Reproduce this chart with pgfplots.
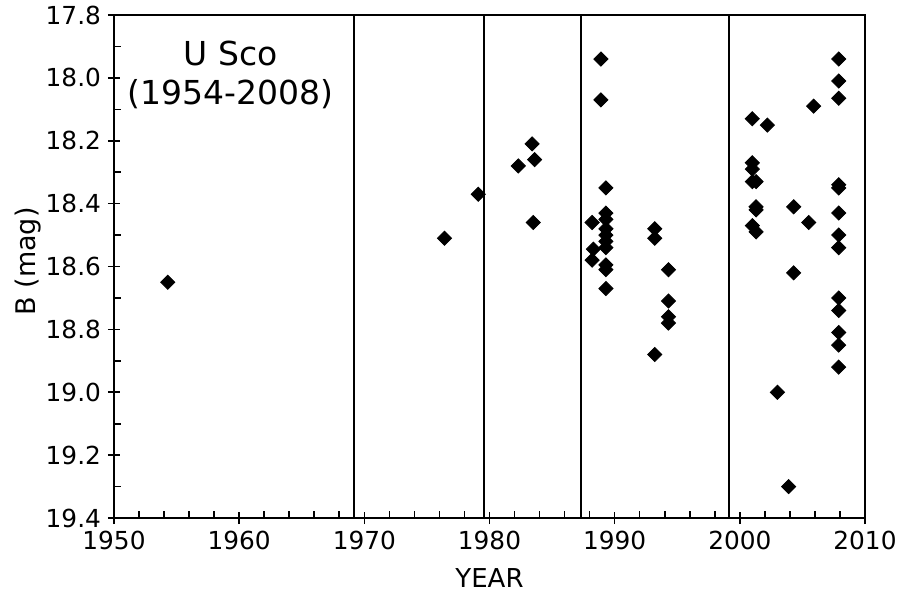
\documentclass[border=0pt]{standalone}
\usepackage{fontspec}
\setmainfont{DejaVu Sans}
\usepackage{pgfplots}
\pgfplotsset{compat=1.18}
\begin{document}
\begin{tikzpicture}
\path[use as bounding box] (-57pt,-39pt) rectangle (391.5pt,259pt);
\begin{axis}[
  at={(0,0)}, anchor=south west,
  width=375.5pt, height=251.5pt, scale only axis,
  xmin=1950, xmax=2010, ymin=17.8, ymax=19.4,
  y dir=reverse,
  xtick={1950,1960,...,2010},
  ytick={17.8,18.0,...,19.4},
  minor x tick num=4, minor y tick num=1,
  xtick pos=bottom, ytick pos=left,
  tick align=inside,
  major tick length=6pt, minor tick length=3.5pt,
  every major x tick/.style={yshift=-3pt},
  every major y tick/.style={xshift=-3pt},
  every tick/.style={black, line width=0.8pt},
  axis line style={black, line width=1pt},
  /pgf/number format/assume math mode=true,
  yticklabel style={/pgf/number format/fixed, /pgf/number format/fixed zerofill, /pgf/number format/precision=1, xshift=-3pt},
  xticklabel style={/pgf/number format/1000 sep={}, yshift=-3pt},
  ticklabel style={font=\fontsize{12.4}{14}\selectfont},
  xlabel={YEAR}, ylabel={B (mag)},
  xlabel style={font=\fontsize{13}{15}\selectfont, at={(axis description cs:0.5,-0.119)}, anchor=center},
  ylabel style={font=\fontsize{13.5}{15}\selectfont, at={(axis description cs:-0.115,0.51)}, anchor=center},
  clip=false,
]
\addplot[black, line width=1pt] coordinates {(1969.2,17.8) (1969.2,19.4)};
\addplot[black, line width=1pt] coordinates {(1979.6,17.8) (1979.6,19.4)};
\addplot[black, line width=1pt] coordinates {(1987.3,17.8) (1987.3,19.4)};
\addplot[black, line width=1pt] coordinates {(1999.1,17.8) (1999.1,19.4)};
\addplot[only marks, mark=square*, mark size=2.5pt, mark options={rotate=45, fill=black, draw=black}] table {
x y
1954.3 18.65
1976.4 18.51
1979.1 18.37
1982.3 18.28
1983.4 18.21
1983.6 18.26
1983.5 18.46
1988.9 17.94
1988.9 18.07
1988.2 18.46
1988.3 18.545
1988.2 18.58
1989.3 18.35
1989.3 18.43
1989.3 18.45
1989.3 18.48
1989.3 18.50
1989.3 18.52
1989.3 18.54
1989.3 18.595
1989.3 18.61
1989.3 18.67
1993.2 18.48
1993.2 18.51
1993.2 18.88
1994.3 18.61
1994.3 18.71
1994.3 18.76
1994.3 18.78
2001.0 18.13
2002.2 18.15
2001.0 18.27
2001.0 18.29
2001.0 18.33
2001.3 18.33
2001.3 18.41
2001.3 18.42
2001.0 18.47
2001.3 18.49
2003.0 19.00
2003.9 19.30
2004.3 18.41
2004.3 18.62
2005.5 18.46
2005.9 18.09
2007.9 17.94
2007.9 18.01
2007.9 18.065
2007.9 18.34
2007.9 18.35
2007.9 18.43
2007.9 18.50
2007.9 18.54
2007.9 18.70
2007.9 18.74
2007.9 18.81
2007.9 18.85
2007.9 18.92
};
\node[align=center, font=\fontsize{16.5}{19.6}\selectfont] at (axis cs:1959.3,17.99) {U Sco\\(1954-2008)};
\end{axis}
\end{tikzpicture}
\end{document}
